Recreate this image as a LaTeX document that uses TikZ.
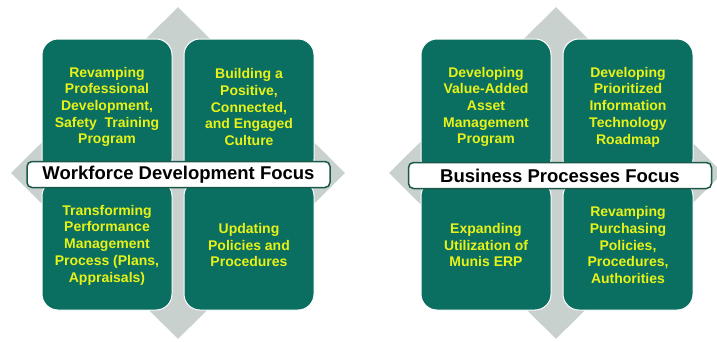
\documentclass[tikz,border=0pt]{standalone}
\usepackage{fontspec}
\setmainfont{Liberation Sans}
\usepackage{xcolor}
\usetikzlibrary{shapes.geometric}

\definecolor{focusgreen}{RGB}{10,111,96}
\definecolor{topicyellow}{RGB}{232,242,24}
\definecolor{diamondgray}{RGB}{201,209,207}
\definecolor{bannergreen}{RGB}{26,88,74}

\begin{document}
\begin{tikzpicture}[
    x=1pt, y=-1pt,
    % Styles
    backdiamond/.style={diamond, fill=diamondgray, draw=none, minimum width=334pt, minimum height=332pt, inner sep=0pt},
    topicbox/.style={rectangle, fill=focusgreen, draw=white, line width=1pt, minimum width=130pt, minimum height=130pt, align=center, rounded corners=16pt, text=topicyellow, font=\fontsize{14}{16.7}\selectfont\bfseries},
    uppertopic/.style={topicbox, minimum height=136pt},
    focusbanner/.style={rectangle, fill=white, draw=bannergreen, line width=1.5pt, minimum width=303pt, minimum height=26pt, inner sep=0pt, rounded corners=5pt, font=\fontsize{18.5}{22}\selectfont\bfseries}
]
\clip (0,0) rectangle (717,341);

% Workforce development
\node[backdiamond] (wfdiamond) at (178,173) {};

\node[uppertopic] (wfprof) at (107,107) {
    Revamping\\
    Professional\\
    Development,\\
    Safety~ Training\\
    Program
};
\node[uppertopic] (wfculture) at (249,107) {
    Building a\\
    Positive,\\
    Connected,\\
    and Engaged\\
    Culture
};
\node[topicbox] (wfperf) at (107,245) {
    Transforming\\
    Performance\\
    Management\\
    Process (Plans,\\
    Appraisals)
};
\node[topicbox] (wfpolicy) at (249,245) {
    Updating\\
    Policies and\\
    Procedures
};

\node[focusbanner] (wffocus) at (178.5,174.5) {Workforce Development Focus};

% Business processes
\node[backdiamond] (bpdiamond) at (556,173) {};

\node[uppertopic] (bpasset) at (486,107) {
    Developing\\
    Value-Added\\
    Asset\\
    Management\\
    Program
};
\node[uppertopic] (bproadmap) at (628,107) {
    Developing\\
    Prioritized\\
    Information\\
    Technology\\
    Roadmap
};
\node[topicbox] (bperp) at (486,245) {
    Expanding\\
    Utilization of\\
    Munis ERP
};
\node[topicbox] (bppurch) at (628,245) {
    Revamping\\
    Purchasing\\
    Policies,\\
    Procedures,\\
    Authorities
};

\node[focusbanner] (bpfocus) at (560,175.5) {Business Processes Focus};

\end{tikzpicture}
\end{document}
